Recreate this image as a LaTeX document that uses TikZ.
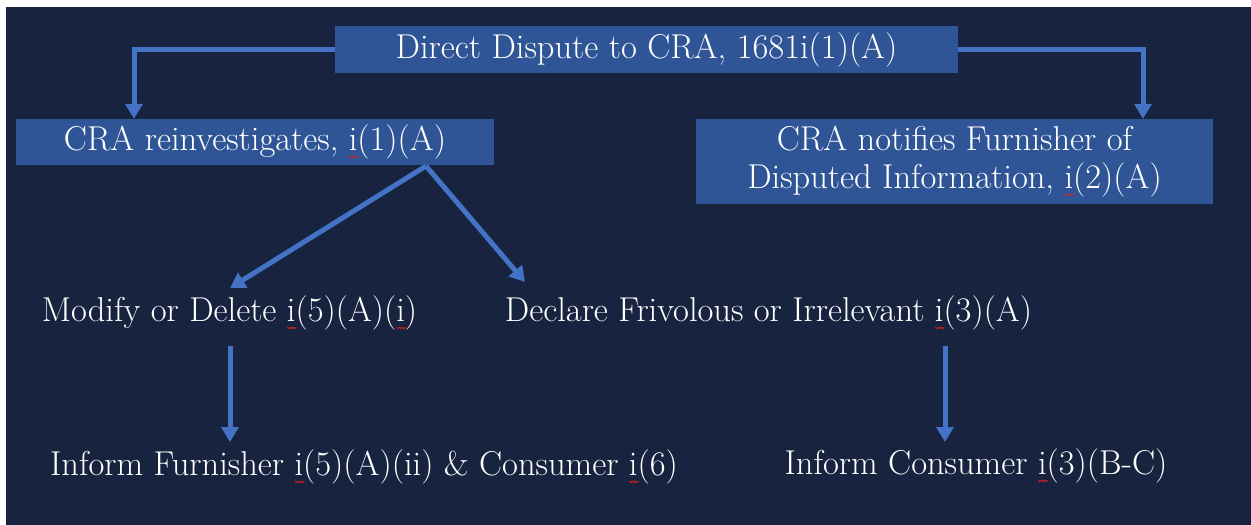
\documentclass[tikz,border=0pt]{standalone}
\usetikzlibrary{arrows.meta}

\definecolor{bgnavy}{HTML}{17233F}
\definecolor{boxblue}{HTML}{2F5597}
\definecolor{arrowblue}{HTML}{4472C4}
\definecolor{spellred}{HTML}{E02020}

% red spell-check wave under a letter
\newcommand{\spellmark}[1]{\leavevmode\makebox[0pt][l]{\smash{\tikz[baseline=0pt,x=1pt,y=1pt]
  \draw[spellred,line width=0.8pt] (0,-5.5) -- (1.5,-7.1) -- (3,-5.5) -- (4.5,-7.1) -- (6,-5.5) -- (7.5,-7.1) -- (9,-5.5);}}#1}

\begin{document}
\begin{tikzpicture}[x=1pt, y=-1pt, line join=miter,
  box/.style={fill=boxblue, text=white, inner sep=0pt, align=center,
    font=\fontsize{34.5}{38}\selectfont},
  plain/.style={text=white, inner sep=0pt, font=\fontsize{34.5}{38}\selectfont},
  flow/.style={draw=arrowblue, line width=5pt,
    -{Triangle[width=17pt,length=15pt]}}]

  %% ════ page and background ════
  \fill[white] (0,0) rectangle (1251,525);
  \fill[bgnavy] (6,7) rectangle (1251,525);

  %% ════ boxes ════
  \node[box, minimum width=623pt, minimum height=47pt] (top) at (646.5,49.5)
    {Direct Dispute to CRA, 1681i(1)(A)};
  \node[box, minimum width=478pt, minimum height=46pt] (lbox) at (255,142)
    {CRA reinvestigates, \spellmark{i}(1)(A)};
  \node[box, minimum width=517pt, minimum height=85pt] (rbox) at (954.5,161.5)
    {CRA notifies Furnisher of\\Disputed Information, \spellmark{i}(2)(A)};

  %% ════ plain labels ════
  \node[plain] (mod) at (229.5,313) {Modify or Delete \spellmark{i}(5)(A)(\spellmark{i})};
  \node[plain] (decl) at (768.5,313) {Declare Frivolous or Irrelevant \spellmark{i}(3)(A)};
  \node[plain] (infF) at (364,467) {Inform Furnisher \spellmark{i}(5)(A)(ii) \& Consumer \spellmark{i}(6)};
  \node[plain] (infC) at (976,466) {Inform Consumer \spellmark{i}(3)(B-C)};

  %% ════ bends and free ends ════
  \coordinate (lturn) at (134,49.5);
  \coordinate (rturn) at (1143,49.5);
  \coordinate (split) at (426,166);
  \coordinate (modtip) at (230,288);
  \coordinate (decltip) at (525,282);
  \coordinate (lvtop) at (230,346);
  \coordinate (lvtip) at (230,442);
  \coordinate (rvtop) at (945,346);
  \coordinate (rvtip) at (945,442);

  %% ════ connectors ════
  \draw[flow] (top.west) -- (lturn) -- (lturn |- lbox.north);
  \draw[flow] (top.east) -- (rturn) -- (rturn |- rbox.north);
  \draw[flow] (split) -- (modtip);
  \draw[flow] (split) -- (decltip);
  \draw[flow] (lvtop) -- (lvtip);
  \draw[flow] (rvtop) -- (rvtip);

  % fix the canvas
  \pgfresetboundingbox
  \path[use as bounding box] (0,0) rectangle (1251,525);
\end{tikzpicture}
\end{document}
